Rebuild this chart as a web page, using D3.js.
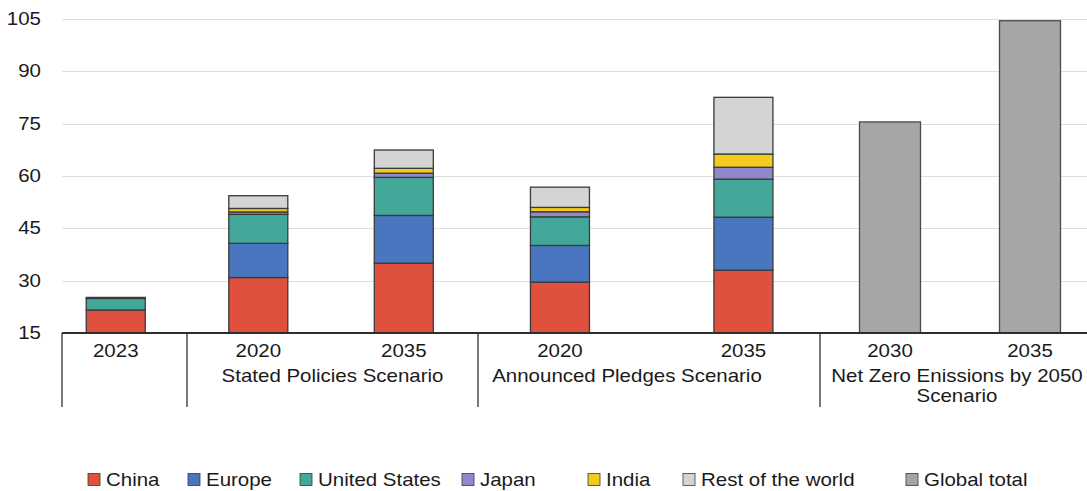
<!DOCTYPE html>
<html>
<head>
<meta charset="utf-8">
<script src="https://cdn.jsdelivr.net/npm/d3@7"></script>
<style>
  html, body { margin: 0; padding: 0; background: #ffffff; }
  svg { display: block; }
  text { font-family: "Liberation Sans", Arial, Helvetica, sans-serif; fill: #1a1a1a; }
</style>
</head>
<body>
<svg id="chart" width="1087" height="491"></svg>
<script>
// ---------------- DATA ----------------
const categories = ["2023", "STEPS 2020", "STEPS 2035", "APS 2020", "APS 2035", "NZE 2030", "NZE 2035"];
const yearLabels = ["2023", "2020", "2035", "2020", "2035", "2030", "2035"];
const categoryGroup = [0, 1, 1, 2, 2, 3, 3];
const groupLabels = [[], ["Stated Policies Scenario"], ["Announced Pledges Scenario"], ["Net Zero Enissions by 2050", "Scenario"]];

const seriesKeys = ["China", "Europe", "United States", "Japan", "India", "Rest of the world"];
const china        = [21.6, 30.9, 35.0, 29.6, 33.0, 0, 0];
const europe       = [0,     9.8, 13.7, 10.5, 15.2, 0, 0];
const unitedStates = [3.3,   8.3, 10.9,  8.2, 10.9, 0, 0];
const japan        = [0,     0.7,  1.2,  1.45, 3.4, 0, 0];
const india        = [0,     1.0,  1.4,  1.25, 3.8, 0, 0];
const restOfWorld  = [0.3,   3.65, 5.25, 5.8, 16.25, 0, 0];
const globalTotal  = [0, 0, 0, 0, 0, 75.5, 104.5];

const yTicks = [15, 30, 45, 60, 75, 90, 105];
const legendLabels = ["China", "Europe", "United States", "Japan", "India", "Rest of the world", "Global total"];

// ---------------- STYLE / LAYOUT ----------------
const colors = {
  "China": "#e0503f",
  "Europe": "#4a76bf",
  "United States": "#43a89a",
  "Japan": "#9387cb",
  "India": "#f3cb1f",
  "Rest of the world": "#d4d4d4",
  "Global total": "#a6a6a6"
};
const TEXT_SX = 1.17;
const FONT = 17.5;
const barW = 59;
const groupBounds = [[62, 187], [187, 478], [478, 820], [820, 1100]];
const groupPadding = [0, 0.5, 0.432, 0.5];
const groupAlign = [0.43, 0.49, 0.517, 0.5];
const groupLabelShift = [0, 0, -22, -3];
const legendX = [88, 188, 300, 462, 588, 683, 906];

const svg = d3.select("#chart");

const y = d3.scaleLinear().domain([15, 105]).range([333, 19]).clamp(true);

// x: point scale inside each scenario group
const groupScales = groupBounds.map((b, gi) => {
  const members = categories.filter((c, i) => categoryGroup[i] === gi);
  return d3.scalePoint().domain(members).range(b)
    .padding(groupPadding[gi]).align(groupAlign[gi]);
});
const xc = (cat) => {
  const i = categories.indexOf(cat);
  return groupScales[categoryGroup[i]](cat);
};

function addText(parent, x, yPos, str, anchor) {
  return parent.append("text")
    .attr("transform", `translate(${x},${yPos}) scale(${TEXT_SX},1)`)
    .attr("text-anchor", anchor || "middle")
    .style("font-size", FONT + "px")
    .text(str);
}

// gridlines
const grid = svg.append("g");
grid.selectAll("line").data(yTicks.filter(t => t !== 15)).join("line")
  .attr("x1", 62).attr("x2", 1087)
  .attr("y1", d => Math.round(y(d)) + 0.5).attr("y2", d => Math.round(y(d)) + 0.5)
  .attr("stroke", "#dedede").attr("stroke-width", 1.2);

// y tick labels
const yl = svg.append("g");
yTicks.forEach(t => addText(yl, 41, y(t) + 6, String(t), "end"));

// stacked bars
const table = categories.map((c, i) => ({
  cat: c,
  "China": china[i], "Europe": europe[i], "United States": unitedStates[i],
  "Japan": japan[i], "India": india[i], "Rest of the world": restOfWorld[i]
}));
const stacked = d3.stack().keys(seriesKeys)(table);

const bars = svg.append("g");
stacked.forEach(layer => {
  bars.append("g").selectAll("rect")
    .data(layer.filter(d => d[1] - d[0] > 0))
    .join("rect")
    .attr("x", d => xc(d.data.cat) - barW / 2)
    .attr("width", barW)
    .attr("y", d => y(d[1]))
    .attr("height", d => y(d[0]) - y(d[1]))
    .attr("fill", colors[layer.key])
    .attr("stroke", "#3a3a3a")
    .attr("stroke-width", 1.3);
});

// global total bars
bars.append("g").selectAll("rect")
  .data(categories.map((c, i) => ({ cat: c, v: globalTotal[i] })).filter(d => d.v > 0))
  .join("rect")
  .attr("x", d => xc(d.cat) - barW / 2 - 1)
  .attr("width", barW + 2)
  .attr("y", d => y(d.v))
  .attr("height", d => y(15) - y(d.v))
  .attr("fill", colors["Global total"])
  .attr("stroke", "#4a4a4a")
  .attr("stroke-width", 1.3);

// x axis baseline
svg.append("line")
  .attr("x1", 62).attr("x2", 1087)
  .attr("y1", y(15)).attr("y2", y(15))
  .attr("stroke", "#2e2e2e").attr("stroke-width", 2);

// group dividers
svg.append("g").selectAll("line")
  .data(groupBounds.map(b => b[0]))
  .join("line")
  .attr("x1", d => d).attr("x2", d => d)
  .attr("y1", y(15)).attr("y2", 407)
  .attr("stroke", "#2e2e2e").attr("stroke-width", 1.3);

// category labels
const xl = svg.append("g");
categories.forEach((c, i) => addText(xl, xc(c), 357, yearLabels[i], "middle"));

// group labels
groupLabels.forEach((lines, gi) => {
  const cx = (groupBounds[gi][0] + groupBounds[gi][1]) / 2 + groupLabelShift[gi];
  lines.forEach((ln, li) => addText(xl, cx, 382 + li * 19.5, ln, "middle"));
});

// legend
const lg = svg.append("g");
legendLabels.forEach((lab, i) => {
  lg.append("rect")
    .attr("x", legendX[i]).attr("y", 473.5)
    .attr("width", 12).attr("height", 12)
    .attr("fill", colors[lab])
    .attr("stroke", "#3a3a3a").attr("stroke-width", 0.8);
  addText(lg, legendX[i] + 18, 486, lab, "start");
});
</script>
</body>
</html>
